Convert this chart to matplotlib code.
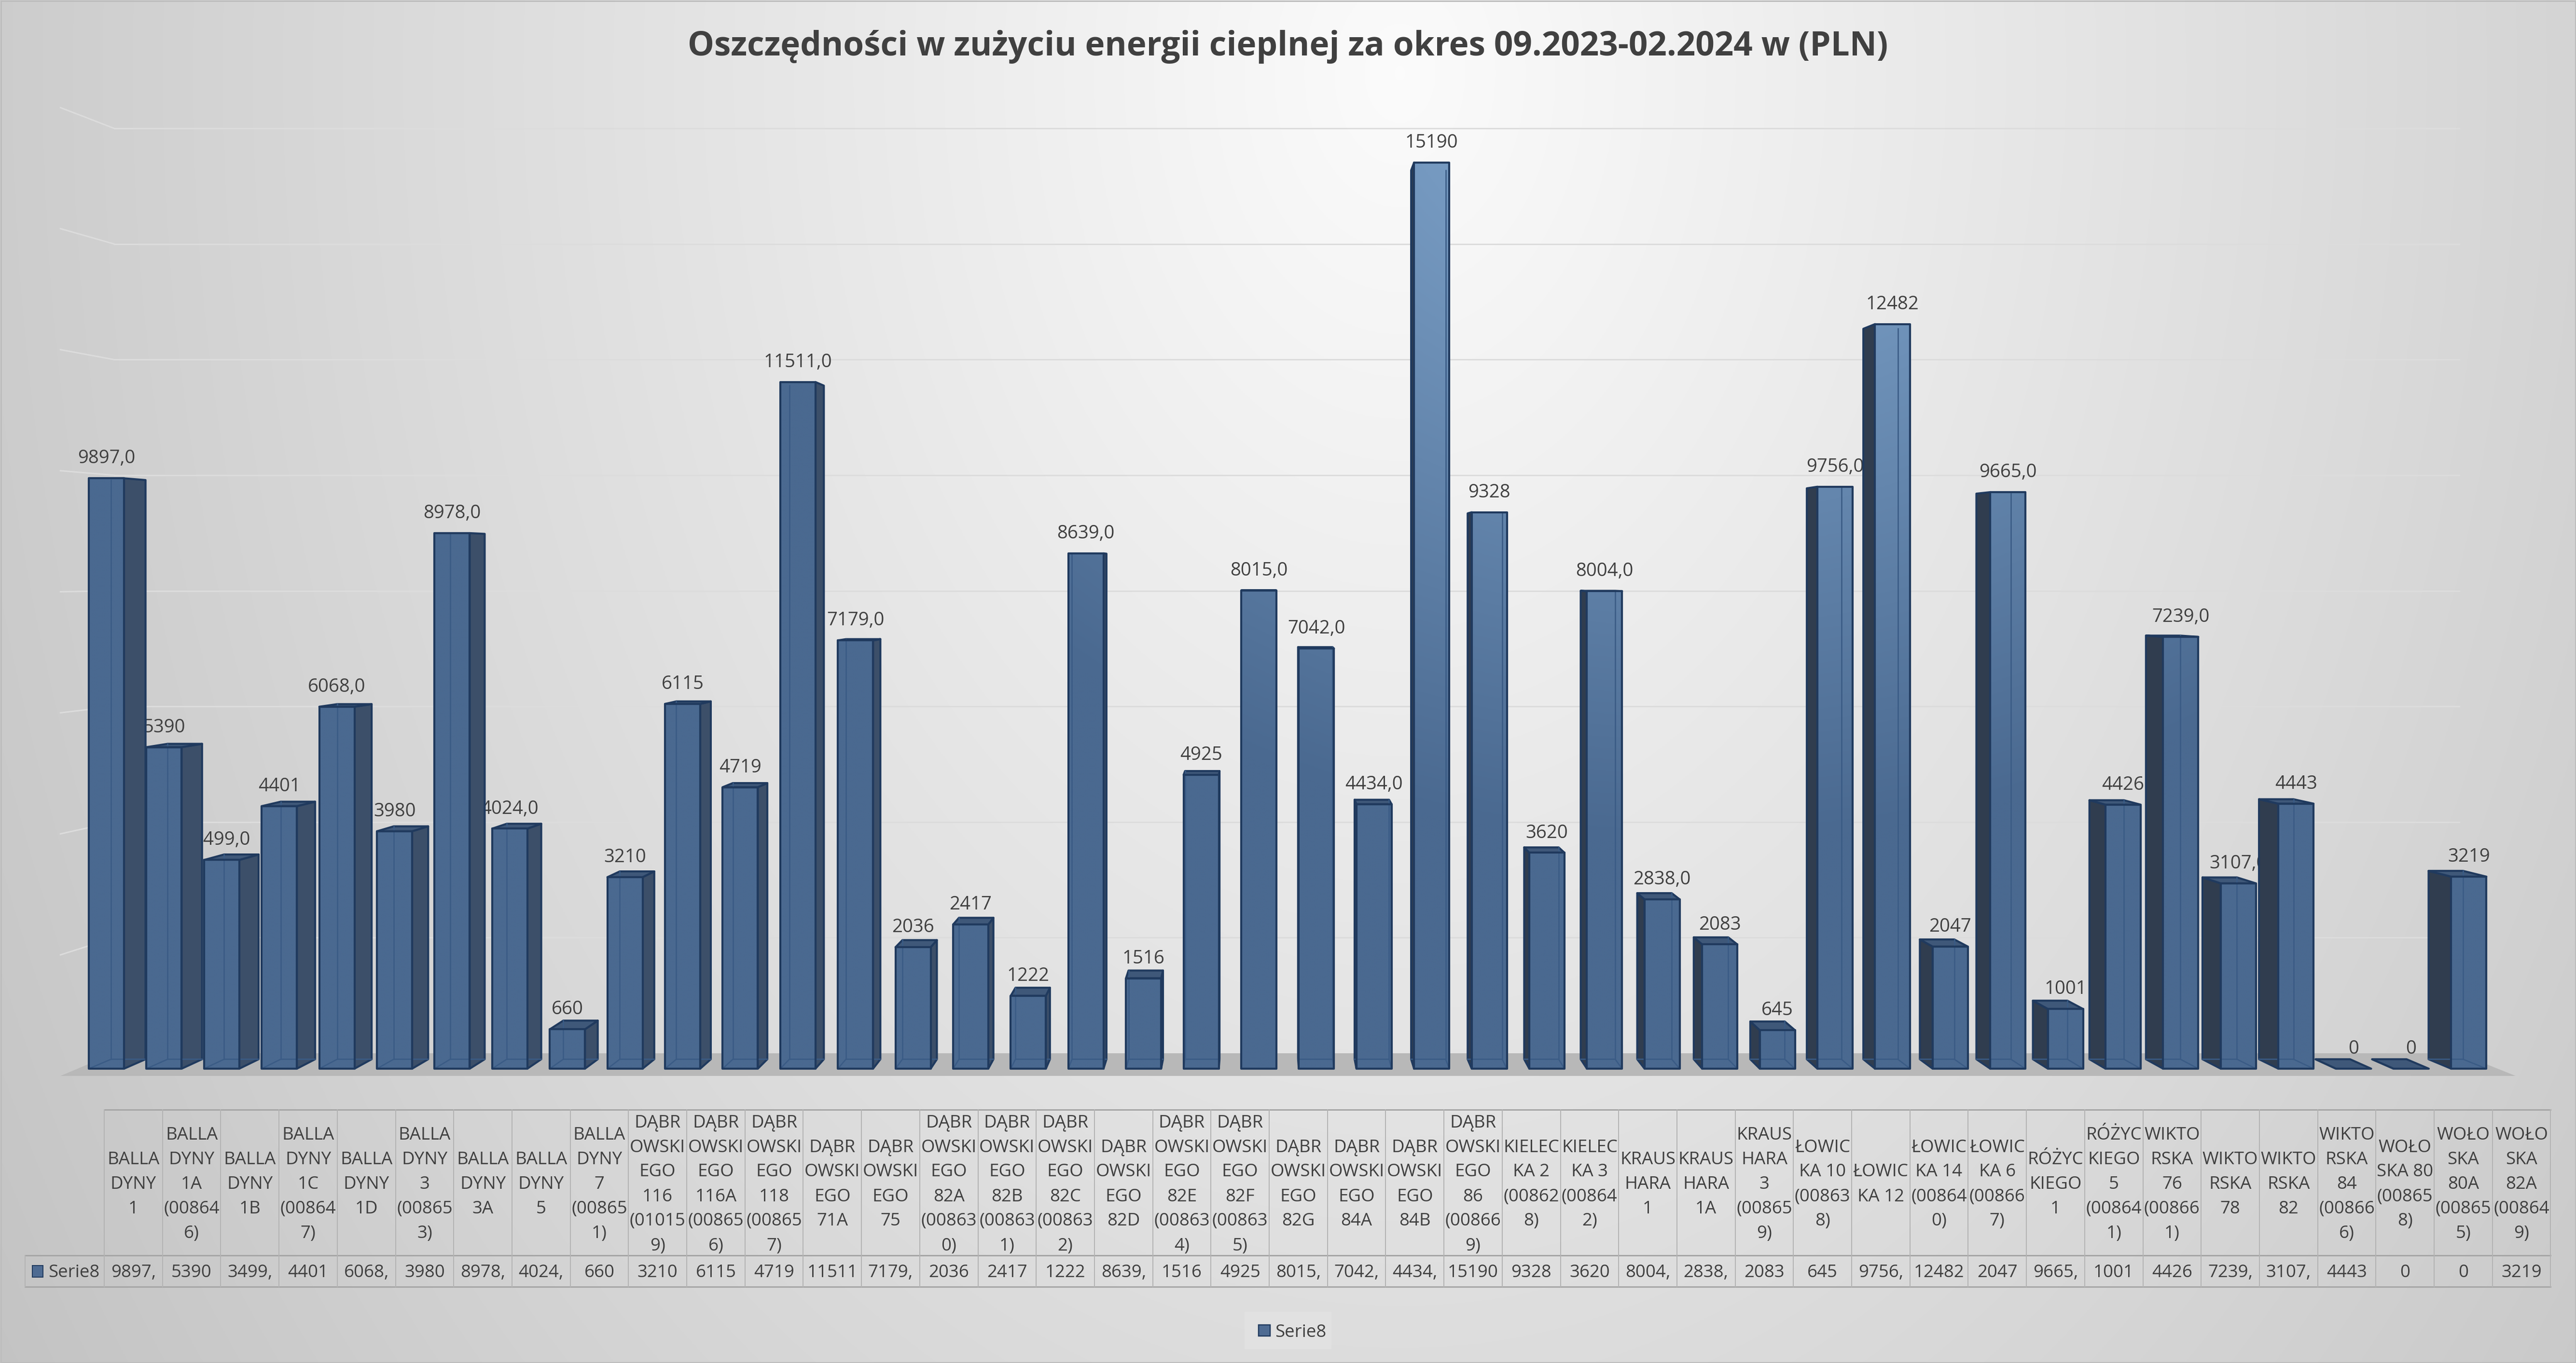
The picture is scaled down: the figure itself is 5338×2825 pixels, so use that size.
import numpy as np
import matplotlib
matplotlib.use('Agg')
import matplotlib.pyplot as plt
from matplotlib.patches import Polygon, Rectangle
from matplotlib.path import Path

plt.rcParams['font.family'] = ['Open Sans', 'DejaVu Sans']

title = 'Oszczędności w zużyciu energii cieplnej za okres 09.2023-02.2024 w (PLN)'
series_name = 'Serie8'

# category labels as wrapped in the data table
labels = [
    'BALLA\nDYNY\n1', 'BALLA\nDYNY\n1A\n(00864\n6)', 'BALLA\nDYNY\n1B',
    'BALLA\nDYNY\n1C\n(00864\n7)', 'BALLA\nDYNY\n1D', 'BALLA\nDYNY\n3\n(00865\n3)',
    'BALLA\nDYNY\n3A', 'BALLA\nDYNY\n5', 'BALLA\nDYNY\n7\n(00865\n1)',
    'DĄBR\nOWSKI\nEGO\n116\n(01015\n9)', 'DĄBR\nOWSKI\nEGO\n116A\n(00865\n6)',
    'DĄBR\nOWSKI\nEGO\n118\n(00865\n7)', 'DĄBR\nOWSKI\nEGO\n71A', 'DĄBR\nOWSKI\nEGO\n75',
    'DĄBR\nOWSKI\nEGO\n82A\n(00863\n0)', 'DĄBR\nOWSKI\nEGO\n82B\n(00863\n1)',
    'DĄBR\nOWSKI\nEGO\n82C\n(00863\n2)', 'DĄBR\nOWSKI\nEGO\n82D',
    'DĄBR\nOWSKI\nEGO\n82E\n(00863\n4)', 'DĄBR\nOWSKI\nEGO\n82F\n(00863\n5)',
    'DĄBR\nOWSKI\nEGO\n82G', 'DĄBR\nOWSKI\nEGO\n84A', 'DĄBR\nOWSKI\nEGO\n84B',
    'DĄBR\nOWSKI\nEGO\n86\n(00866\n9)', 'KIELEC\nKA 2\n(00862\n8)', 'KIELEC\nKA 3\n(00864\n2)',
    'KRAUS\nHARA\n1', 'KRAUS\nHARA\n1A', 'KRAUS\nHARA\n3\n(00865\n9)',
    'ŁOWIC\nKA 10\n(00863\n8)', 'ŁOWIC\nKA 12', 'ŁOWIC\nKA 14\n(00864\n0)',
    'ŁOWIC\nKA 6\n(00866\n7)', 'RÓŻYC\nKIEGO\n1', 'RÓŻYC\nKIEGO\n5\n(00864\n1)',
    'WIKTO\nRSKA\n76\n(00866\n1)', 'WIKTO\nRSKA\n78', 'WIKTO\nRSKA\n82',
    'WIKTO\nRSKA\n84\n(00866\n6)', 'WOŁO\nSKA 80\n(00865\n8)',
    'WOŁO\nSKA\n80A\n(00865\n5)', 'WOŁO\nSKA\n82A\n(00864\n9)',
]

values = [9897, 5390, 3499, 4401, 6068, 3980, 8978, 4024, 660, 3210,
          6115, 4719, 11511, 7179, 2036, 2417, 1222, 8639, 1516, 4925,
          8015, 7042, 4434, 15190, 9328, 3620, 8004, 2838, 2083, 645,
          9756, 12482, 2047, 9665, 1001, 4426, 7239, 3107, 4443, 0,
          0, 3219]

# cells that were stored with one decimal place (shown as "9897,0")
one_decimal = [1, 0, 1, 0, 1, 0, 1, 1, 0, 0,
               0, 0, 1, 1, 0, 0, 0, 1, 0, 0,
               1, 1, 1, 0, 0, 0, 1, 1, 0, 0,
               1, 0, 0, 1, 0, 0, 1, 1, 0, 0,
               0, 0]


def fmt(v, dec):
    if dec:
        return ('%.1f' % v).replace('.', ',')
    return '%d' % v


W, H, DPI = 5338, 2825, 200
PT = 72.0 / DPI  # points per pixel
fig = plt.figure(figsize=(W / DPI, H / DPI), dpi=DPI)

# background radial gradient
bg = fig.add_axes([0, 0, 1, 1])
bg.set_axis_off()
yy, xx = np.mgrid[0:H:4, 0:W:4]
r = np.hypot((xx - 2900) / 2700.0, (yy - 150) / 3800.0)
b = np.clip(0.985 - 0.17 * r, 0.74, 1)
bg.imshow(np.dstack([b, b, b]), extent=(0, W, H, 0), aspect='auto', interpolation='bilinear')
bg.set_xlim(0, W)
bg.set_ylim(H, 0)
bg.set_zorder(0)

# chart axes in category / value units
ax = fig.add_axes([0, 0, 1, 1])
ax.set_axis_off()
ax.patch.set_alpha(0)
ax.set_zorder(1)

# fake 3d: everything deeper is scaled towards a vanishing point
vx, vy = 20.0, 8340.0
s_back, s_wall, s_floor = 0.981, 0.969, 1.0145
xL, xR = -0.5, len(values) - 0.5


def proj(x, y, s):
    return (vx + s * (x - vx), vy + s * (y - vy))


grid_col = '#dcdcdc'
for k in range(1, 9):
    v = 2000 * k
    p1, p2 = proj(xL, v, s_wall), proj(xR, v, s_wall)
    ax.plot([p1[0], p2[0]], [p1[1], p2[1]], color=grid_col, lw=3 * PT, zorder=1)
    p0 = proj(xL, v, s_floor)
    ax.plot([p0[0], p1[0]], [p0[1], p1[1]], color=grid_col, lw=3 * PT, zorder=1)

floor = [proj(xL, 0, s_floor), proj(xR, 0, s_floor), proj(xR, 0, s_wall), proj(xL, 0, s_wall)]
ax.add_patch(Polygon(floor, closed=True, fc='#b8b8b8', ec='none', zorder=1.5))

edge = '#203a5e'
side_r = '#3c4f69'
side_l = '#303d4f'
top_c = '#3f5879'
hidden = '#3a5b85'
w = 0.61
ew = 4.2 * PT

order = sorted(range(len(values)), key=lambda i: -abs(i - vx))
front_paths = []
for i in order:
    v = values[i]
    xl, xr = i - w / 2, i + w / 2
    bl, br = proj(xl, 0, s_back), proj(xr, 0, s_back)
    tl, tr = proj(xl, v, s_back), proj(xr, v, s_back)
    if xr < vx:
        ax.add_patch(Polygon([(xr, 0), (xr, v), tr, br], closed=True, fc=side_r, ec=edge,
                             lw=ew, joinstyle='round', zorder=3))
        hid = [[(xl, 0), bl, br], [bl, tl]]
    elif xl > vx:
        ax.add_patch(Polygon([(xl, 0), (xl, v), tl, bl], closed=True, fc=side_l, ec=edge,
                             lw=ew, joinstyle='round', zorder=3))
        hid = [[(xr, 0), br, bl], [br, tr]]
    else:
        hid = []
    if v < vy:
        ax.add_patch(Polygon([(xl, v), (xr, v), tr, tl], closed=True, fc=top_c, ec=edge,
                             lw=ew, joinstyle='round', zorder=3))
    if v > 0:
        front_paths.append(Path([(xl, 0), (xr, 0), (xr, v), (xl, v), (xl, 0)], closed=True))
        ax.add_patch(Rectangle((xl, 0), w, v, fill=False, ec=edge, lw=ew,
                               joinstyle='round', zorder=5))
        for seg in hid:
            xs, ys = zip(*seg)
            ax.plot(xs, ys, color=hidden, lw=2.6 * PT, zorder=4.5)
    # data label
    ax.text(i, v + 250, fmt(v, one_decimal[i]), ha='center', va='baseline',
            fontsize=13.8, color='#404040', zorder=2.6)

# front faces: one lit gradient clipped to all bar fronts
gx = np.linspace(-1, 42, 600)
gy = np.linspace(0, 16000, 400)
GX, GY = np.meshgrid(gx, gy)
d = np.hypot((GX - 27.5) / 14.0, (GY - 17000) / 11000.0)
t = np.clip(1.2 - d, 0, 1)[..., None]
dark = np.array([0x4a, 0x69, 0x90]) / 255.0
light = np.array([0x7e, 0xa3, 0xca]) / 255.0
img = dark * (1 - t) + light * t
im = ax.imshow(img, extent=(-1, 42, 0, 16000), origin='lower', aspect='auto',
               interpolation='bilinear', zorder=4)
im.set_clip_path(Path.make_compound_path(*front_paths), ax.transData)

PX0, PITCH = 220.5, 119.4
PY0, PYS = 2215.0, 0.12364
ax.set_xlim(-PX0 / PITCH, (W - PX0) / PITCH)
ax.set_ylim((PY0 - H) / PYS, PY0 / PYS)

# overlay in pixel units: title, data table, legend, frame
ov = fig.add_axes([0, 0, 1, 1])
ov.set_axis_off()
ov.patch.set_alpha(0)
ov.set_zorder(2)
ov.set_xlim(0, W)
ov.set_ylim(H, 0)

ttl = ov.text(W / 2, 115, title, ha='center', va='baseline', fontsize=26.5,
              fontweight='bold', color='#404040')

T_L, T_P = 216.0, 120.7
T_TOP, T_MID, T_BOT = 2300, 2602, 2667
RH_L = 52
n = len(values)
T_R = T_L + n * T_P
tcol = '#404040'
line_c = '#a6a6a6'
ov.plot([T_L, T_R], [T_TOP, T_TOP], color=line_c, lw=3 * PT)
ov.plot([RH_L, T_R], [T_MID, T_MID], color=line_c, lw=3 * PT)
ov.plot([RH_L, T_R], [T_BOT, T_BOT], color=line_c, lw=3 * PT)
ov.plot([RH_L, RH_L], [T_MID, T_BOT], color='#b3b3b3', lw=2 * PT)
for j in range(n + 1):
    x = T_L + j * T_P
    ov.plot([x, x], [T_TOP, T_BOT], color='#b3b3b3', lw=2 * PT)

LINE_H = 51
hmid = (T_TOP + T_MID) / 2.0
for i, lab in enumerate(labels):
    cx = T_L + (i + 0.5) * T_P
    rows = lab.split('\n')
    for j, row in enumerate(rows):
        yb = hmid + (j - (len(rows) - 1) / 2.0) * LINE_H + 13
        ov.text(cx, yb, row, ha='center', va='baseline', fontsize=13.2, color=tcol)
    ov.text(cx, 2647, fmt(values[i], one_decimal[i])[:5], ha='center', va='baseline',
            fontsize=13.2, color=tcol)

ov.add_patch(Rectangle((67, 2623), 22, 24, fc='#4e6b92', ec=edge, lw=2 * PT))
ov.text(100, 2647, series_name, ha='left', va='baseline', fontsize=13.2, color=tcol)

# legend
ov.add_patch(Rectangle((2579, 2719), 180, 77, fc='#e1e1e1', ec='none'))
ov.add_patch(Rectangle((2608, 2746), 24, 23, fc='#4e6b92', ec=edge, lw=2.5 * PT))
ov.text(2642, 2771, series_name, ha='left', va='baseline', fontsize=13.2, color=tcol)

# outer frame
ov.add_patch(Rectangle((1.5, 1.5), W - 3, H - 3, fill=False, ec='#bdbdbd', lw=3 * PT))

# fit title to the measured width
fig.canvas.draw()
bb = ttl.get_window_extent()
ttl.set_fontsize(26.5 * 2489.0 / bb.width)

fig.savefig('out.png', dpi=DPI)
